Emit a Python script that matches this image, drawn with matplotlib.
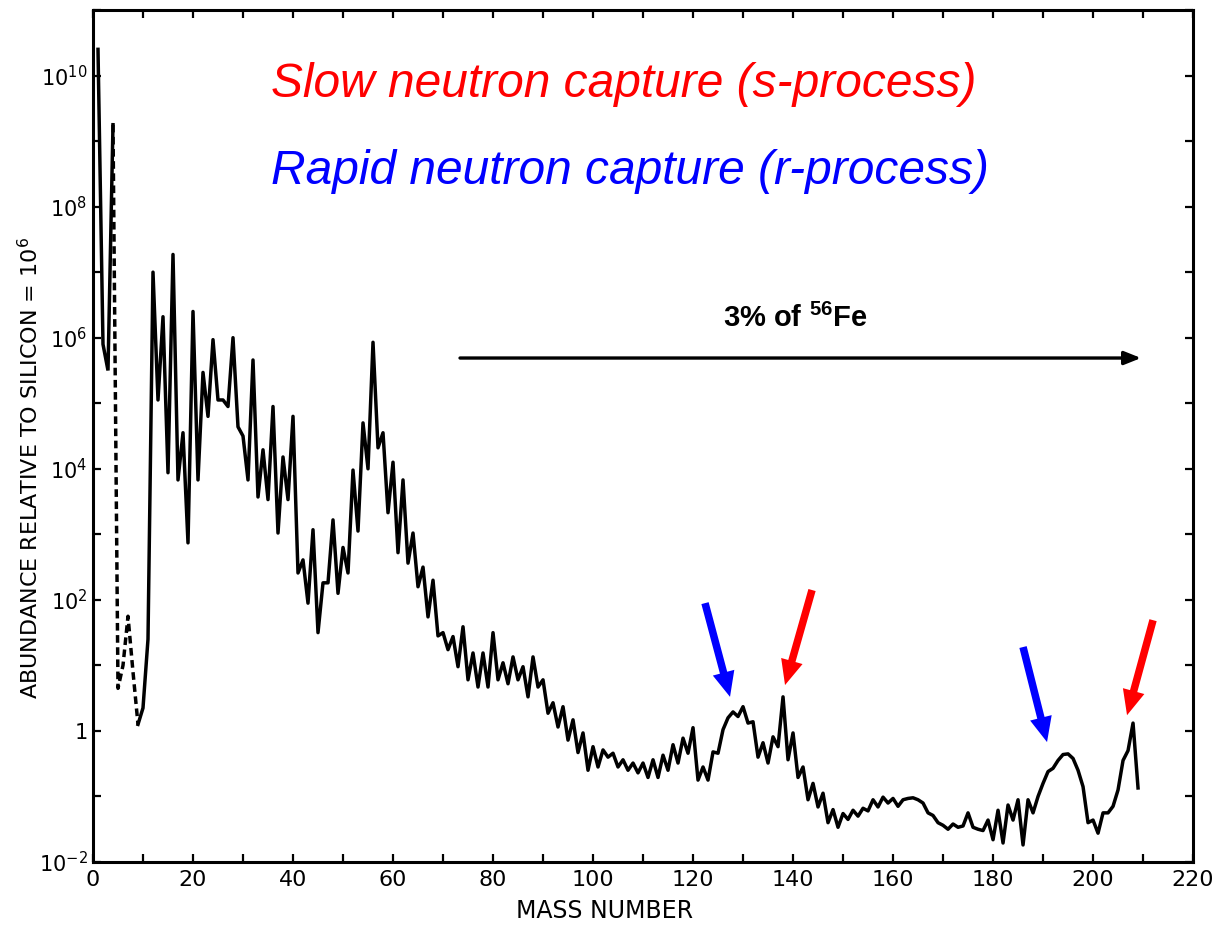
import numpy as np
import matplotlib
matplotlib.use('Agg')
import matplotlib.pyplot as plt
from matplotlib.ticker import FixedLocator, FuncFormatter

plt.rcParams['mathtext.fontset'] = 'custom'
plt.rcParams['mathtext.rm'] = 'DejaVu Sans'
plt.rcParams['mathtext.bf'] = 'Liberation Sans:bold'

# log10 of abundance relative to silicon = 1e6
mass_light = [1, 2, 3, 4]
log_light = [10.4, 5.9, 5.5, 9.25]

# Li / Be / B region (dashed)
mass_dash = [4, 5, 6, 7, 8, 9]
log_dash = [9.25, 0.65, 1.0, 1.75, 0.9, 0.1]

mass_main = list(range(9, 210))
log_main = [
    0.1, 0.35, 1.4, 7.0, 5.05, 6.32, 3.94, 7.27, 3.83, 4.55, 2.87,       # 9-19
    6.4, 3.83, 5.47, 4.8, 5.97, 5.05, 5.05, 4.95, 6.0, 4.64,             # 20-29
    4.5, 3.83, 5.66, 3.57, 4.29, 3.53, 4.95, 3.02, 4.18, 3.53,           # 30-39
    4.8, 2.41, 2.61, 1.95, 3.07, 1.5, 2.26, 2.26, 3.22, 2.1,             # 40-49
    2.8, 2.41, 3.98, 3.05, 4.7, 4.0, 5.93, 4.32, 4.55, 3.33,             # 50-59
    4.1, 2.72, 3.83, 2.56, 3.02, 2.2, 2.5, 1.74, 2.3, 1.45,              # 60-69
    1.5, 1.24, 1.44, 0.98, 1.59, 0.78, 1.19, 0.67, 1.19, 0.67,           # 70-79
    1.5, 0.78, 1.04, 0.72, 1.13, 0.78, 0.98, 0.52, 1.13, 0.67,           # 80-89
    0.78, 0.27, 0.43, 0.06, 0.37, -0.14, 0.17, -0.33, -0.03, -0.6,       # 90-99
    -0.24, -0.55, -0.29, -0.4, -0.34, -0.55, -0.44, -0.6, -0.49, -0.64,  # 100-109
    -0.49, -0.71, -0.44, -0.71, -0.37, -0.6, -0.21, -0.49, -0.11, -0.34, # 110-119
    0.05, -0.75, -0.55, -0.75, -0.32, -0.34, 0.02, 0.2, 0.29, 0.22,      # 120-129
    0.37, 0.12, 0.14, -0.4, -0.18, -0.49, -0.09, -0.24, 0.52, -0.44,     # 130-139
    -0.03, -0.71, -0.55, -1.05, -0.8, -1.16, -0.95, -1.4, -1.2, -1.47,   # 140-149
    -1.26, -1.35, -1.21, -1.3, -1.18, -1.22, -1.05, -1.16, -1.01, -1.1,  # 150-159
    -1.03, -1.15, -1.05, -1.03, -1.02, -1.05, -1.1, -1.25, -1.29, -1.4,  # 160-169
    -1.44, -1.5, -1.42, -1.47, -1.45, -1.25, -1.47, -1.5, -1.52, -1.36,  # 170-179
    -1.66, -1.21, -1.71, -1.13, -1.36, -1.05, -1.74, -1.05, -1.25, -1.0, # 180-189
    -0.8, -0.62, -0.57, -0.45, -0.36, -0.35, -0.42, -0.6, -0.85, -1.4,   # 190-199
    -1.36, -1.56, -1.25, -1.25, -1.15, -0.9, -0.45, -0.3, 0.12, -0.87,   # 200-209
]

x_ticks = list(range(0, 230, 10))
y_ticks = [10.0 ** k for k in range(-2, 12)]

fig = plt.figure(figsize=(12.22, 9.27), dpi=100)
ax = fig.add_axes([0.0761, 0.0701, 0.9002, 0.9191])

ax.plot(mass_light, np.power(10.0, log_light), color='black', lw=2.5, solid_joinstyle='miter')
ax.plot(mass_dash, np.power(10.0, log_dash), color='black', lw=2.5, ls=(0, (2.2, 1.3)))
ax.plot(mass_main, np.power(10.0, log_main), color='black', lw=2.5)

ax.set_yscale('log')
ax.set_xlim(0, 220)
ax.set_ylim(1e-2, 1e11)

ax.xaxis.set_major_locator(FixedLocator(x_ticks))
ax.xaxis.set_major_formatter(FuncFormatter(lambda v, p: '%d' % v if int(round(v)) % 20 == 0 else ''))
ax.yaxis.set_major_locator(FixedLocator(y_ticks))
ax.yaxis.set_minor_locator(FixedLocator([]))


def ylab(v, p):
    k = int(round(np.log10(v)))
    if k % 2 != 0 or k > 10:
        return ''
    if k == 0:
        return '1'
    return r'$10^{%d}$' % k


ax.yaxis.set_major_formatter(FuncFormatter(ylab))
ax.tick_params(which='both', direction='in', top=True, right=True, length=6, width=1.6,
               labelsize=16, pad=6)
ax.tick_params(axis='y', labelsize=15, pad=4)
for s in ax.spines.values():
    s.set_linewidth(2.2)

ax.text(0.465, -0.058, 'MASS NUMBER', transform=ax.transAxes, ha='center', va='center',
        fontsize=17)
fig.text(0.024, 0.495, r'ABUNDANCE RELATIVE TO SILICON = 10$^6$', rotation=90,
         ha='center', va='center', fontsize=16)

ax.text(0.162, 0.913, 'Slow neutron capture (s-process)', transform=ax.transAxes,
        color='#ff0000', fontsize=34.5, style='italic', family='Liberation Sans',
        ha='left', va='center')
ax.text(0.162, 0.81, 'Rapid neutron capture (r-process)', transform=ax.transAxes,
        color='#0000ff', fontsize=34.5, style='italic', family='Liberation Sans',
        ha='left', va='center')

# 3% of 56Fe arrow
ax.annotate('', xy=(209.6, 10 ** 5.69), xytext=(73.4, 10 ** 5.69),
            arrowprops=dict(arrowstyle='-|>,head_length=0.5,head_width=0.2',
                            mutation_scale=20, color='black', lw=2.4, shrinkA=0, shrinkB=0))
ax.text(140.4, 10 ** 6.3, r'3% of $\mathbf{^{56}}$Fe', ha='center', va='center',
        fontsize=21, fontweight='bold', family='Liberation Sans')

# r- and s-process peak arrows
arrows = [
    ((122.4, 1.95), (127.4, 0.52), '#0000ff'),
    ((143.8, 2.15), (138.4, 0.70), '#ff0000'),
    ((186.0, 1.28), (190.8, -0.17), '#0000ff'),
    ((212.0, 1.69), (206.8, 0.24), '#ff0000'),
]
for (x0, y0), (x1, y1), c in arrows:
    ax.annotate('', xy=(x1, 10 ** y1), xytext=(x0, 10 ** y0),
                arrowprops=dict(arrowstyle='simple,head_length=0.9,head_width=0.8,tail_width=0.27',
                                mutation_scale=20, color=c, lw=0, shrinkA=0, shrinkB=0))

fig.savefig('out.png', dpi=100)
